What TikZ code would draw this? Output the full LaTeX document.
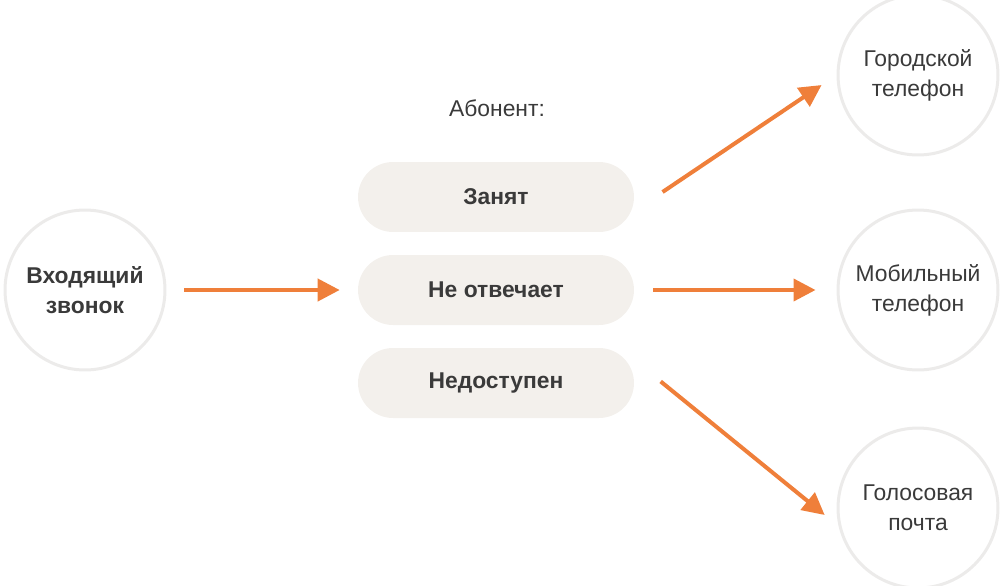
\documentclass[tikz,border=0pt]{standalone}
\usepackage{fontspec}
\setmainfont{Liberation Sans}
\usetikzlibrary{arrows.meta}
\definecolor{arrorange}{HTML}{EF7F3A}
\definecolor{ringgray}{HTML}{ECEBEA}
\definecolor{pillfill}{HTML}{F3F0EC}
\definecolor{txtgray}{HTML}{3A3A3A}
\begin{document}
\begin{tikzpicture}[x=0.02cm,y=-0.02cm,
    every node/.style={text=txtgray,font=\fontsize{13}{17}\selectfont,align=center},
    ring/.style={circle,draw=ringgray,line width=0.06cm,fill=white,minimum size=3.2cm,inner sep=0pt},
    pill/.style={rectangle,rounded corners=0.7cm,fill=pillfill,minimum width=5.52cm,minimum height=1.4cm,font=\fontsize{13}{17}\selectfont\bfseries},
    arr/.style={draw=arrorange,line width=0.08cm,-{Triangle[length=0.44cm,width=0.44cm]}}]
      \useasboundingbox (0,0) rectangle (1006,585);
      \clip (0,0) rectangle (1006,585);
      \draw
        (85,290) node[ring,font=\fontsize{13}{17}\selectfont\bfseries] (vh){Входящий\\звонок}
        (497,108) node (ab){Абонент:}
        (496,197) node[pill] (zan){Занят}
        (496,290) node[pill] (nev){Не отвечает}
        (496,383) node[pill] (ned){Недоступен}
        (918,75) node[ring] (gor){Городской\\телефон}
        (918,290) node[ring] (mob){Мобильный\\телефон}
        (918,508) node[ring] (gol){Голосовая\\почта};
      \begin{scope}[arr]
        \draw[shorten <=0.36cm,shorten >=0.36cm] (vh) to (nev);
        \draw[shorten <=0.68cm,shorten >=0.36cm] ([yshift=-0.28cm]zan.east) to (gor.west);
        \draw[shorten <=0.38cm,shorten >=0.42cm] (nev) to (mob);
        \draw[shorten <=0.68cm,shorten >=0.36cm] ([yshift=0.46cm]ned.east) to (gol.193);
      \end{scope}
    \end{tikzpicture}
\end{document}
